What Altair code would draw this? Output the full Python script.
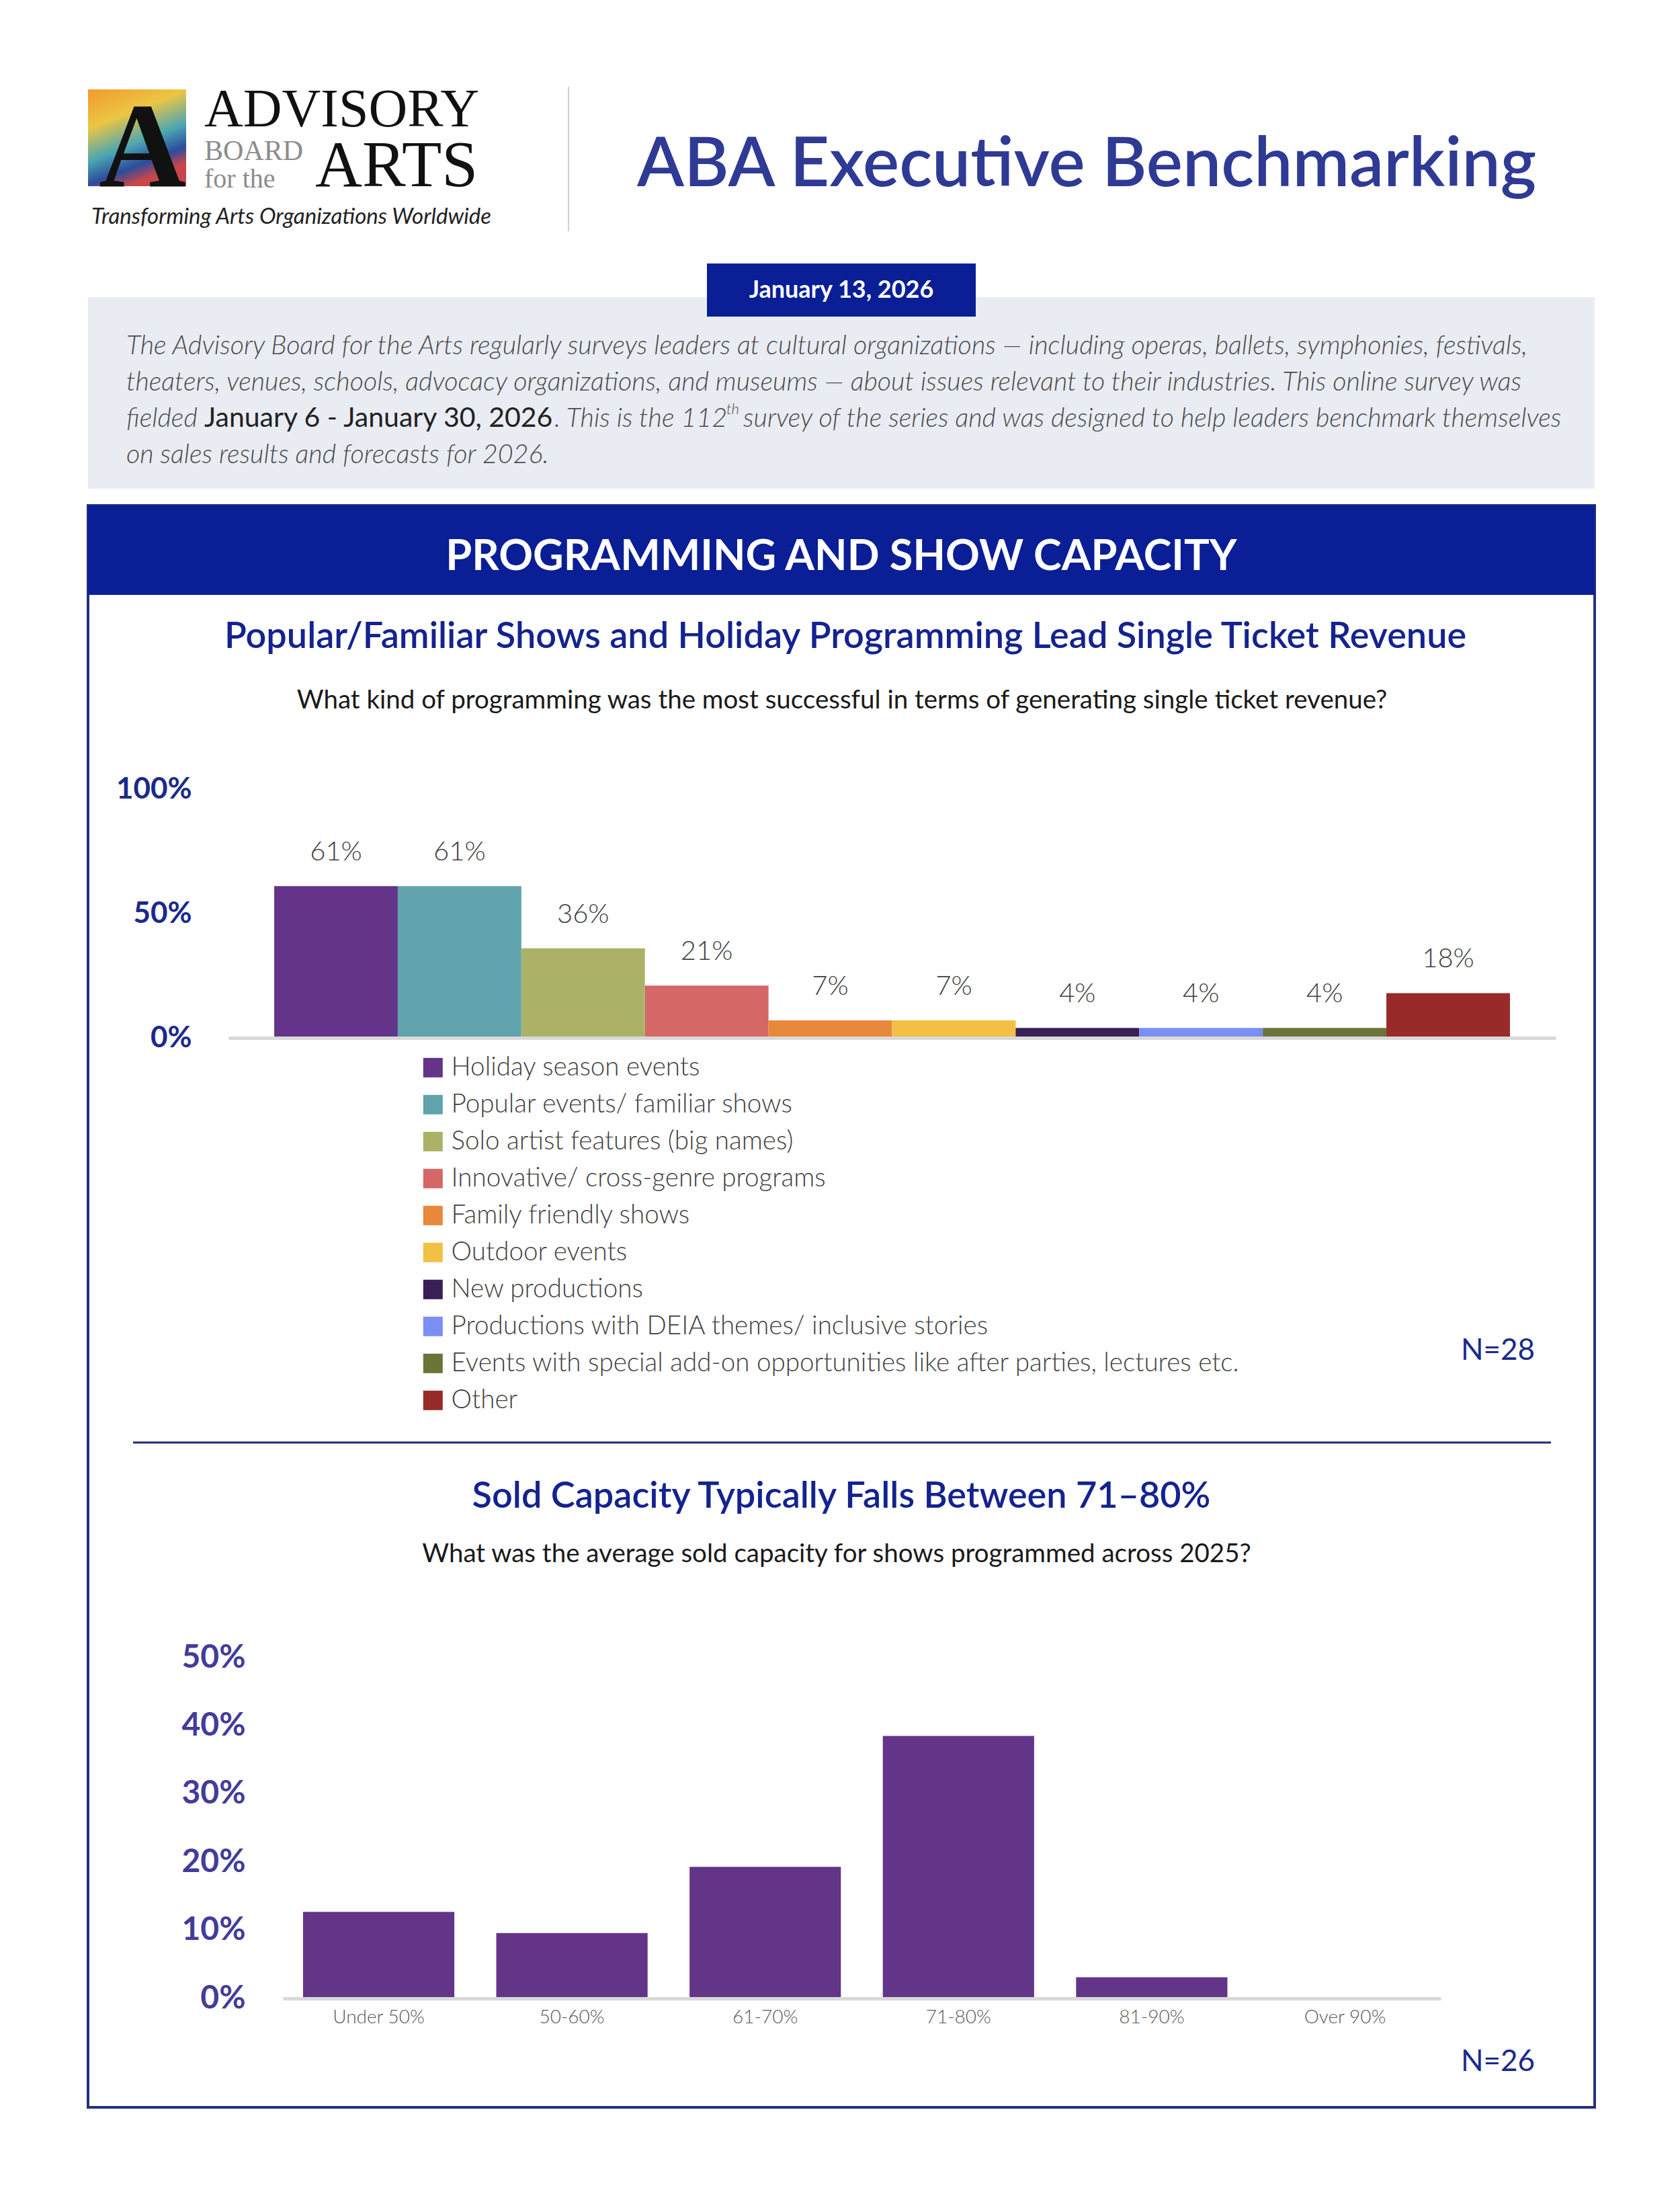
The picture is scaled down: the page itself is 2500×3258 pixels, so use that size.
import altair as alt
import pandas as pd

# ---------------- data ----------------
cat1 = [
    "Holiday season events",
    "Popular events/ familiar shows",
    "Solo artist features (big names)",
    "Innovative/ cross-genre programs",
    "Family friendly shows",
    "Outdoor events",
    "New productions",
    "Productions with DEIA themes/ inclusive stories",
    "Events with special add-on opportunities like after parties, lectures etc.",
    "Other",
]
val1 = [61, 61, 36, 21, 7, 7, 4, 4, 4, 18]
col1 = ["#63348A", "#60A3AC", "#ABB267", "#D56767", "#E8883A",
        "#F2C144", "#3A1F56", "#7B8EF4", "#6A7438", "#992A2A"]
ticks1 = [0, 50, 100]

cat2 = ["Under 50%", "50-60%", "61-70%", "71-80%", "81-90%", "Over 90%"]
val2 = [12.7, 9.6, 19.3, 38.5, 3.1, 0]
ticks2 = [0, 10, 20, 30, 40, 50]

para1 = "The Advisory Board for the Arts regularly surveys leaders at cultural organizations \u2014 including operas, ballets, symphonies, festivals,"
para2 = "theaters, venues, schools, advocacy organizations, and museums \u2014 about issues relevant to their industries. This online survey was"
para3a = "fielded"
para3b = "January 6 - January 30, 2026"
para3c = ". This is the 112"
para3d = "th"
para3e = "survey of the series and was designed to help leaders benchmark themselves"
para4 = "on sales results and forecasts for 2026."

# ---------------- layout ----------------
W, H = 2484, 3242
FONT = "Lato"
SERIF = "Liberation Serif"
NAVY = "#0A1E96"
TITLE_BLUE = "#14238F"
one = pd.DataFrame({"k": [0]})


def box(x1, y1, x2, y2, fill, stroke=None, sw=0):
    kw = dict(fill=fill, strokeWidth=sw)
    if stroke:
        kw["stroke"] = stroke
    return alt.Chart(one).mark_rect(**kw).encode(
        x=alt.value(x1), x2=alt.value(x2), y=alt.value(y1), y2=alt.value(y2))


def txt(s, x, y, size, color, weight="normal", style="normal", align="left",
        baseline="middle", font=FONT):
    return alt.Chart(one).mark_text(
        text=s, fontSize=size, color=color, fontWeight=weight, fontStyle=style,
        align=align, baseline=baseline, font=font).encode(x=alt.value(x), y=alt.value(y))


def hline(x1, x2, y, color, sw):
    return alt.Chart(one).mark_rule(color=color, strokeWidth=sw).encode(
        x=alt.value(x1), x2=alt.value(x2), y=alt.value(y))


def vline(x, y1, y2, color, sw):
    return alt.Chart(one).mark_rule(color=color, strokeWidth=sw).encode(
        x=alt.value(x), y=alt.value(y1), y2=alt.value(y2))


layers = []

# logo
grad = alt.Gradient(
    gradient="linear", x1=0, x2=0.4, y1=0, y2=1,
    stops=[alt.GradientStop(color="#F29A2E", offset=0),
           alt.GradientStop(color="#EBC643", offset=0.35),
           alt.GradientStop(color="#4BA6B2", offset=0.65),
           alt.GradientStop(color="#2C4C9C", offset=0.85),
           alt.GradientStop(color="#C8464B", offset=1)])
layers.append(alt.Chart(one).mark_rect(color=grad).encode(
    x=alt.value(123), x2=alt.value(269), y=alt.value(125), y2=alt.value(269)))
layers.append(txt("A", 204, 269, 180, "#111111", weight="bold", align="center",
                  baseline="alphabetic", font=SERIF))
layers.append(txt("ADVISORY", 296, 180, 80, "#111111", baseline="alphabetic", font=SERIF))
layers.append(txt("BOARD", 296, 230, 42, "#8C8C8C", baseline="alphabetic", font=SERIF))
layers.append(txt("for the", 296, 271, 40, "#8C8C8C", baseline="alphabetic", font=SERIF))
layers.append(txt("ARTS", 461, 269, 97, "#111111", baseline="alphabetic", font=SERIF))
layers.append(txt("Transforming Arts Organizations Worldwide", 128, 325, 33, "#222222",
                  style="italic", baseline="alphabetic"))
layers.append(vline(838, 121, 336, "#D0D0D0", 2))

# main title
layers.append(txt("ABA Executive Benchmarking", 940, 269, 102, "#2E3A94",
                  weight=600, baseline="alphabetic"))

# grey intro box + date tab
layers.append(box(123, 434, 2365, 719, "#E9ECF3"))
layers.append(box(1044, 384, 1444, 463, NAVY))
layers.append(txt("January 13, 2026", 1244, 424, 36, "white", weight="bold", align="center"))
PC = "#4A4A4A"
PS = 39.5
layers.append(txt(para1, 180, 507, PS, PC, weight=300, style="italic"))
layers.append(txt(para2, 180, 561, PS, PC, weight=300, style="italic"))
layers.append(txt(para3a, 180, 615, PS, PC, weight=300, style="italic"))
layers.append(txt(para3b, 296, 615, 41, "#222222"))
layers.append(txt(para3c, 817, 615, PS, PC, weight=300, style="italic"))
layers.append(txt(para3d, 1073, 601, 22, PC, weight=300, style="italic"))
layers.append(txt(para3e, 1098, 615, PS, PC, weight=300, style="italic"))
layers.append(txt(para4, 180, 669, PS, PC, weight=300, style="italic"))

# panel
layers.append(box(123, 744, 2365, 3127, "white", stroke="#23307F", sw=4))
layers.append(box(123, 744, 2365, 877, NAVY))
layers.append(txt("PROGRAMMING AND SHOW CAPACITY", 1244, 821, 63, "white", weight="bold",
                  align="center"))

# chart 1 headings
layers.append(txt("Popular/Familiar Shows and Holiday Programming Lead Single Ticket Revenue",
                  1250, 940, 54, TITLE_BLUE, weight=600, align="center"))
layers.append(txt("What kind of programming was the most successful in terms of generating single ticket revenue?",
                  1245, 1034, 38.5, "#1A1A1A", align="center"))

# chart 1
df1 = pd.DataFrame({"cat": cat1, "val": val1})
x1 = alt.X("cat:N", sort=cat1,
           scale=alt.Scale(range=[332, 2307], paddingInner=0, paddingOuter=0.37),
           axis=alt.Axis(title=None, labels=False, ticks=False, grid=False, orient="bottom",
                         offset=1536 - H, domainColor="#D9D9D9", domainWidth=5, zindex=1))
y1 = alt.Y("val:Q",
           scale=alt.Scale(domain=[0, 100], range=[1536, 1166], nice=False),
           axis=alt.Axis(title=None, values=ticks1, labelExpr="datum.value + '%'",
                         orient="left", offset=-332, domain=False, ticks=False, grid=False,
                         labelFontSize=44, labelFontWeight="bold", labelColor="#1B2A8A",
                         labelPadding=55, labelFont=FONT, zindex=1))
c1 = alt.Color("cat:N", sort=cat1, scale=alt.Scale(domain=cat1, range=col1),
               legend=alt.Legend(orient="none", legendX=617, legendY=1561, title=None,
                                 symbolType="square", symbolSize=841, symbolStrokeWidth=0,
                                 labelFontSize=38.6, labelFont=FONT, labelFontWeight=300,
                                 labelColor="#404040", labelLimit=2000, rowPadding=16,
                                 labelOffset=8, padding=0, zindex=2))
bars1 = alt.Chart(df1).mark_bar().encode(x=x1, y=y1, color=c1)
lab1 = alt.Chart(df1).transform_calculate(lbl="datum.val + '%'").mark_text(
    dy=-50, fontSize=40, color="#404040", font=FONT, fontWeight=300).encode(
    x=x1, y=y1, text="lbl:N")
layers.append(alt.layer(bars1, lab1))
layers.append(txt("N=28", 2221, 2002, 44, "#1A2A8C", align="center"))

# separator
layers.append(hline(190, 2300, 2138, "#1F2A7A", 3))

# chart 2 headings
layers.append(txt("Sold Capacity Typically Falls Between 71\u201380%", 1244, 2219, 54,
                  TITLE_BLUE, weight=600, align="center"))
layers.append(txt("What was the average sold capacity for shows programmed across 2025?",
                  1237, 2304, 38.5, "#1A1A1A", align="center"))

# chart 2
df2 = pd.DataFrame({"cat": cat2, "val": val2})
x2 = alt.X("cat:N", sort=cat2,
           scale=alt.Scale(range=[413, 2136], paddingInner=0.217, paddingOuter=0.104),
           axis=alt.Axis(title=None, orient="bottom", offset=2965 - H, labelFontSize=28,
                         labelColor="#595959", labelFontWeight=300, labelPadding=14,
                         ticks=False, grid=False, labelAngle=0, domainColor="#D9D9D9",
                         domainWidth=5, labelFont=FONT, zindex=1))
y2 = alt.Y("val:Q",
           scale=alt.Scale(domain=[0, 50], range=[2965, 2458], nice=False),
           axis=alt.Axis(title=None, values=ticks2, labelExpr="datum.value + '%'",
                         orient="left", offset=-413, domain=False, ticks=False, grid=False,
                         labelFontSize=48, labelFontWeight="bold", labelColor="#433C98",
                         labelPadding=56, labelFont=FONT, zindex=1))
bars2 = alt.Chart(df2).mark_bar(color="#623589").encode(x=x2, y=y2)
layers.append(bars2)
layers.append(txt("N=26", 2221, 3060, 44, "#1A2A8C", align="center"))

chart = alt.layer(*layers).properties(
    width=W, height=H, padding=0,
    autosize=alt.AutoSizeParams(type="none"), background="white",
).resolve_scale(x="independent", y="independent", color="independent").resolve_axis(
    x="independent", y="independent").configure_view(stroke=None)

chart.save("out.html", embed_options={"renderer": "svg", "actions": False})
